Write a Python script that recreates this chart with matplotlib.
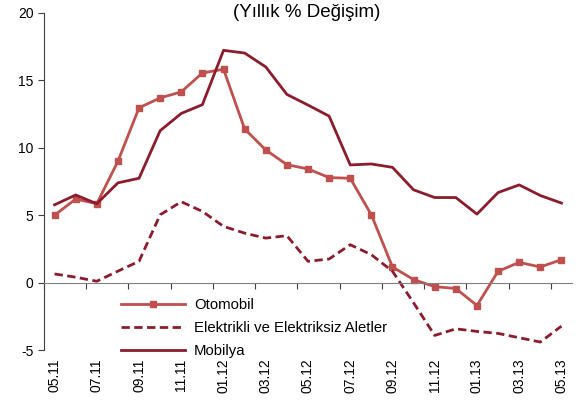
import matplotlib
matplotlib.use("Agg")
import matplotlib.pyplot as plt
import numpy as np

plt.rcParams["font.family"] = ["Liberation Sans", "DejaVu Sans"]
plt.rcParams["axes.unicode_minus"] = False

aylar = ["05.11", "06.11", "07.11", "08.11", "09.11", "10.11", "11.11", "12.11",
         "01.12", "02.12", "03.12", "04.12", "05.12", "06.12", "07.12", "08.12",
         "09.12", "10.12", "11.12", "12.12", "01.13", "02.13", "03.13", "04.13", "05.13"]
otomobil = [5.0, 6.2, 5.85, 9.0, 12.97, 13.7, 14.15, 15.55, 15.83, 11.4, 9.84, 8.75,
            8.43, 7.79, 7.74, 5.03, 1.16, 0.22, -0.3, -0.44, -1.7, 0.84, 1.5, 1.16, 1.7]
elektrikli = [0.64, 0.4, 0.1, 0.85, 1.58, 5.03, 6.0, 5.28, 4.17, 3.67, 3.3, 3.48,
              1.58, 1.75, 2.81, 2.07, 0.84, -1.5, -3.92, -3.43, -3.62, -3.77, -4.09, -4.41, -3.23]
mobilya = [5.77, 6.5, 5.85, 7.4, 7.74, 11.27, 12.55, 13.2, 17.23, 17.03, 16.0, 13.96,
           13.17, 12.35, 8.73, 8.8, 8.55, 6.88, 6.31, 6.31, 5.08, 6.68, 7.25, 6.46, 5.9]

x = np.arange(len(aylar))

fig = plt.figure(figsize=(5.85, 4.05), dpi=100)
ax = fig.add_axes([44 / 585, 1 - 350 / 405, 528 / 585, 337 / 405])

ax.plot(x, otomobil, color="#C0504D", lw=2.0, marker="s", ms=4, label="Otomobil")
ax.plot(x, elektrikli, color="#8C1C2C", lw=2.0, ls=(0, (3, 1.6)), label="Elektrikli ve Elektriksiz Aletler")
ax.plot(x, mobilya, color="#8C1C2C", lw=2.0, label="Mobilya")

ax.set_xlim(-0.5, len(aylar) - 0.5)
ax.set_ylim(-5, 20)
ax.set_yticks(np.arange(-5, 21, 5))
ax.tick_params(axis="y", labelsize=10, length=4, color="#404040")

ax.spines["top"].set_visible(False)
ax.spines["right"].set_visible(False)
ax.spines["left"].set_color("#404040")
ax.spines["bottom"].set_position(("data", 0))
ax.spines["bottom"].set_color("#808080")
ax.set_xticks(np.arange(-0.5, len(aylar) - 1, 2))
ax.set_xticklabels([])
ax.tick_params(axis="x", length=4, color="#404040")

sec = ax.secondary_xaxis(0)
sec.set_xticks(x[::2])
sec.set_xticklabels(aylar[::2], rotation=90, fontsize=10)
sec.tick_params(length=0, pad=6)
sec.spines["bottom"].set_visible(False)

ax.text(0.497, 1.0, "(Yıllık % Değişim)", transform=ax.transAxes, ha="center", va="center",
        fontsize=13.5)

ax.legend(loc="upper left", bbox_to_anchor=(0.135, 0.172), frameon=False, fontsize=10.7,
          handlelength=4.3, labelspacing=0.6, borderaxespad=0, handletextpad=0.6)

fig.savefig("out.png", dpi=100)
